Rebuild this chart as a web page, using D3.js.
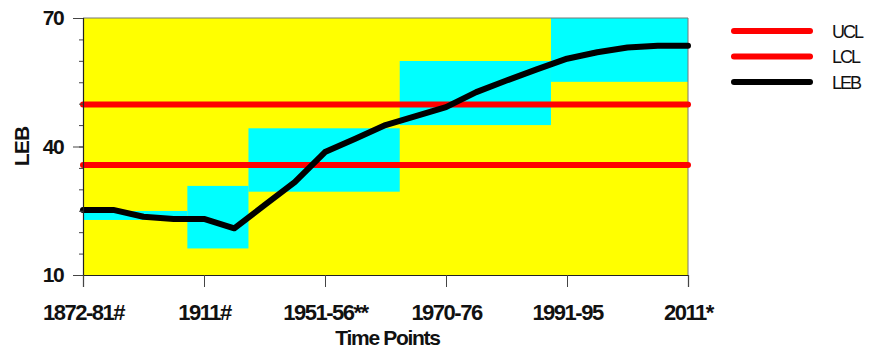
<!DOCTYPE html>
<html>
<head>
<meta charset="utf-8">
<script src="https://cdn.jsdelivr.net/npm/d3@7"></script>
<style>
  html, body { margin: 0; padding: 0; background: #fff; }
  svg { display: block; font-family: "Liberation Sans", Arial, sans-serif; }
</style>
</head>
<body>
<svg id="chart" width="870" height="352"></svg>
<script>
// Life expectancy at birth (LEB) over the time points, with control limits
const tickLabels = ["1872-81#", "1911#", "1951-56**", "1970-76", "1991-95", "2011*"];
const tickIndex = [0, 4, 8, 12, 16, 20];
const leb = [25.2, 25.2, 23.6, 23.1, 23.1, 20.9, 26.3, 31.7, 38.7, 41.8, 45.0, 47.1,
             49.2, 52.7, 55.4, 58.0, 60.5, 62.0, 63.1, 63.5, 63.5];
const ucl = 49.8;
const lcl = 35.7;
// Shaded zones: start/end in time-point index, low/high in years
const zoneStart = [0, 3.45, 5.47, 10.47, 15.47];
const zoneEnd   = [3.45, 5.47, 10.47, 15.47, 20];
const zoneLow   = [22.85, 16.2, 29.45, 45.0, 55.1];
const zoneHigh  = [24.95, 30.8, 44.25, 59.96, 70];
const legendNames = ["UCL", "LCL", "LEB"];
const legendColors = ["#ff0000", "#ff0000", "#000000"];

const svg = d3.select("#chart");
const margin = { left: 83, right: 182, top: 18, bottom: 77 };
const W = 870, H = 352;

const x = d3.scaleLinear().domain([0, 20]).range([margin.left, W - margin.right]);
const y = d3.scaleLinear().domain([10, 70]).range([H - margin.bottom, margin.top]);

// plot background
svg.append("rect")
  .attr("x", x(0)).attr("y", y(70))
  .attr("width", x(20) - x(0)).attr("height", y(10) - y(70))
  .attr("fill", "#ffff00");

// zones
svg.append("g").selectAll("rect")
  .data(zoneStart.map((s, i) => ({ s, e: zoneEnd[i], lo: zoneLow[i], hi: zoneHigh[i] })))
  .join("rect")
  .attr("x", d => x(d.s)).attr("width", d => x(d.e) - x(d.s))
  .attr("y", d => y(d.hi)).attr("height", d => y(d.lo) - y(d.hi))
  .attr("fill", "#00ffff");

// frame (top and right)
svg.append("path")
  .attr("d", `M${x(0)},${y(70)}H${x(20)}V${y(10)}`)
  .attr("fill", "none").attr("stroke", "#777").attr("stroke-width", 1);

// control limits
[ucl, lcl].forEach(v => {
  svg.append("line")
    .attr("x1", x(0)).attr("x2", x(20))
    .attr("y1", y(v)).attr("y2", y(v))
    .attr("stroke", "#ff0000").attr("stroke-width", 6).attr("stroke-linecap", "round");
});

// LEB line
svg.append("path")
  .datum(leb)
  .attr("d", d3.line().x((d, i) => x(i)).y(d => y(d)))
  .attr("fill", "none").attr("stroke", "#000").attr("stroke-width", 6)
  .attr("stroke-linejoin", "round").attr("stroke-linecap", "round");

// y axis: minor ticks every 5, labels at 10/40/70
const yAxisMinor = d3.axisLeft(y).tickValues(d3.range(10, 71, 5)).tickSize(4).tickFormat("");
const gyMinor = svg.append("g").attr("transform", `translate(${x(0)},0)`).call(yAxisMinor);
gyMinor.select(".domain").attr("stroke", "#222").attr("stroke-width", 1.2);
gyMinor.selectAll(".tick line").attr("stroke", "#444");

const yAxis = d3.axisLeft(y).tickValues([10, 40, 70]).tickSize(10).tickPadding(10);
const gy = svg.append("g").attr("transform", `translate(${x(0)},0)`).call(yAxis);
gy.select(".domain").remove();
gy.selectAll(".tick line").attr("stroke", "#444");
gy.selectAll(".tick text")
  .attr("font-size", 21).attr("font-weight", "bold").attr("fill", "#111")
  .attr("letter-spacing", "-1.6px")
  .attr("font-family", "'Liberation Sans', Arial, sans-serif");

// x axis
const xAxis = d3.axisBottom(x).tickValues(tickIndex).tickSize(12).tickPadding(17)
  .tickFormat((d, i) => tickLabels[i]);
const gx = svg.append("g").attr("transform", `translate(0,${y(10)})`).call(xAxis);
gx.select(".domain").attr("stroke", "#222").attr("stroke-width", 1.2);
gx.selectAll(".tick line").attr("stroke", "#444");
gx.selectAll(".tick text")
  .attr("font-size", 22).attr("font-weight", "bold").attr("fill", "#111")
  .attr("letter-spacing", "-1.5px")
  .attr("font-family", "'Liberation Sans', Arial, sans-serif");

// axis titles
svg.append("text")
  .attr("x", (x(0) + x(20)) / 2 + 2).attr("y", 345)
  .attr("text-anchor", "middle")
  .attr("font-size", 21).attr("font-weight", "bold").attr("letter-spacing", "-1.3px")
  .attr("fill", "#111")
  .text("Time Points");

svg.append("text")
  .attr("transform", `translate(29,${y(40)}) rotate(-90)`)
  .attr("text-anchor", "middle")
  .attr("font-size", 21).attr("font-weight", "bold").attr("letter-spacing", "-0.8px")
  .attr("fill", "#111")
  .text("LEB");

// legend
const legend = svg.append("g").selectAll("g")
  .data(legendNames.map((n, i) => ({ n, c: legendColors[i], i })))
  .join("g")
  .attr("transform", d => `translate(0,${31 + d.i * 25.5})`);
legend.append("line")
  .attr("x1", 734).attr("x2", 810).attr("y1", 0).attr("y2", 0)
  .attr("stroke", d => d.c).attr("stroke-width", 6).attr("stroke-linecap", "round");
legend.append("text")
  .attr("x", 832).attr("y", 6.5)
  .attr("font-size", 18).attr("letter-spacing", "-2px").attr("fill", "#111")
  .text(d => d.n);
</script>
</body>
</html>
